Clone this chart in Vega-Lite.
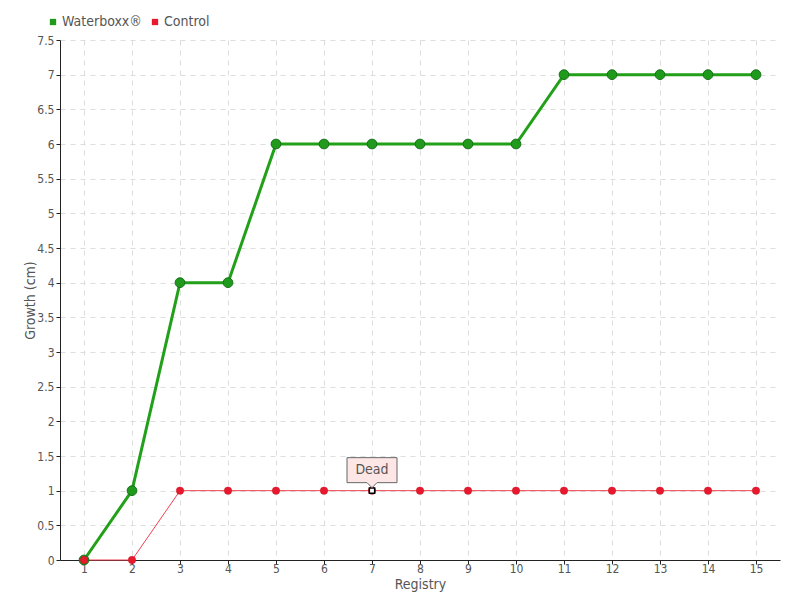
{
  "$schema": "https://vega.github.io/schema/vega-lite/v6.json",
  "width": 720,
  "height": 520,
  "autosize": {"type": "none"},
  "padding": {"left": 60, "top": 40, "right": 20, "bottom": 40},
  "background": "white",
  "config": {
    "font": "DejaVu Sans Condensed",
    "view": {"stroke": null},
    "axis": {
      "labelFont": "DejaVu Sans Condensed",
      "titleFont": "DejaVu Sans Condensed",
      "labelColor": "#555",
      "titleColor": "#555",
      "labelFontSize": 12,
      "titleFontSize": 14,
      "titleFontWeight": "normal",
      "domainColor": "#222",
      "tickColor": "#222",
      "gridColor": "#dddddd",
      "gridDash": [5, 5],
      "gridWidth": 1,
      "labelOverlap": false
    },
    "legend": {"labelFont": "DejaVu Sans Condensed", "labelFontSize": 14, "labelColor": "#555"}
  },
  "datasets": {
    "growth": [
      {"registry": 1, "growth": 0, "series": "Waterboxx®"},
      {"registry": 2, "growth": 1, "series": "Waterboxx®"},
      {"registry": 3, "growth": 4, "series": "Waterboxx®"},
      {"registry": 4, "growth": 4, "series": "Waterboxx®"},
      {"registry": 5, "growth": 6, "series": "Waterboxx®"},
      {"registry": 6, "growth": 6, "series": "Waterboxx®"},
      {"registry": 7, "growth": 6, "series": "Waterboxx®"},
      {"registry": 8, "growth": 6, "series": "Waterboxx®"},
      {"registry": 9, "growth": 6, "series": "Waterboxx®"},
      {"registry": 10, "growth": 6, "series": "Waterboxx®"},
      {"registry": 11, "growth": 7, "series": "Waterboxx®"},
      {"registry": 12, "growth": 7, "series": "Waterboxx®"},
      {"registry": 13, "growth": 7, "series": "Waterboxx®"},
      {"registry": 14, "growth": 7, "series": "Waterboxx®"},
      {"registry": 15, "growth": 7, "series": "Waterboxx®"},
      {"registry": 1, "growth": 0, "series": "Control"},
      {"registry": 2, "growth": 0, "series": "Control"},
      {"registry": 3, "growth": 1, "series": "Control"},
      {"registry": 4, "growth": 1, "series": "Control"},
      {"registry": 5, "growth": 1, "series": "Control"},
      {"registry": 6, "growth": 1, "series": "Control"},
      {"registry": 7, "growth": 1, "series": "Control"},
      {"registry": 8, "growth": 1, "series": "Control"},
      {"registry": 9, "growth": 1, "series": "Control"},
      {"registry": 10, "growth": 1, "series": "Control"},
      {"registry": 11, "growth": 1, "series": "Control"},
      {"registry": 12, "growth": 1, "series": "Control"},
      {"registry": 13, "growth": 1, "series": "Control"},
      {"registry": 14, "growth": 1, "series": "Control"},
      {"registry": 15, "growth": 1, "series": "Control"}
    ],
    "notes": [
      {"registry": 7, "growth": 1, "label": "Dead"}
    ]
  },
  "encoding": {
    "x": {
      "field": "registry", "type": "quantitative",
      "scale": {"domain": [0.5, 15.5], "nice": false, "zero": false},
      "axis": {
        "title": "Registry", "values": [1,2,3,4,5,6,7,8,9,10,11,12,13,14,15],
        "tickSize": 4, "labelPadding": -1, "titlePadding": 3, "grid": true
      }
    },
    "y": {
      "field": "growth", "type": "quantitative",
      "scale": {"domain": [0, 7.5], "nice": false},
      "axis": {
        "title": "Growth (cm)", "values": [0,0.5,1,1.5,2,2.5,3,3.5,4,4.5,5,5.5,6,6.5,7,7.5],
        "format": ".1~f", "tickSize": 4, "labelPadding": 2, "titlePadding": -1, "grid": true
      }
    }
  },
  "layer": [
    {
      "data": {"name": "growth"},
      "transform": [{"filter": "datum.series === 'Waterboxx®'"}],
      "mark": {"type": "line", "strokeWidth": 3, "color": "#22a01a"}
    },
    {
      "data": {"name": "growth"},
      "transform": [{"filter": "datum.series === 'Control'"}],
      "mark": {"type": "line", "strokeWidth": 1, "color": "#f0404f"}
    },
    {
      "data": {"name": "growth"},
      "transform": [{"filter": "datum.series === 'Waterboxx®'"}],
      "mark": {"type": "point", "filled": true, "size": 95, "stroke": "#16701a", "strokeWidth": 1, "opacity": 1},
      "encoding": {
        "fill": {
          "field": "series", "type": "nominal",
          "scale": {"domain": ["Waterboxx®", "Control"], "range": ["#1f9a1a", "#e8192c"]},
          "legend": {
            "orient": "none", "legendX": -14, "legendY": -25, "direction": "horizontal",
            "title": null, "symbolType": "square", "symbolSize": 40, "symbolStrokeWidth": 0,
            "columnPadding": 6, "labelOffset": 2
          }
        }
      }
    },
    {
      "data": {"name": "growth"},
      "transform": [{"filter": "datum.series === 'Control'"}],
      "mark": {"type": "point", "filled": true, "size": 55, "stroke": "#c8101f", "strokeWidth": 0.5, "opacity": 1},
      "encoding": {
        "fill": {"field": "series", "type": "nominal"}
      }
    },
    {
      "data": {"name": "notes"},
      "mark": {"type": "point", "filled": true, "shape": "square", "size": 28, "fill": "white", "stroke": "black", "strokeWidth": 1.5, "opacity": 1}
    },
    {
      "data": {"name": "notes"},
      "mark": {
        "type": "point", "filled": true,
        "shape": "M-1,-1.32 H1 V-0.32 H0.2 L0,-0.12 L-0.2,-0.32 H-1 Z",
        "size": 2500, "fill": "#fde6e6", "stroke": "#666", "strokeWidth": 1, "opacity": 1
      }
    },
    {
      "data": {"name": "notes"},
      "mark": {"type": "text", "dy": -21, "fontSize": 14, "color": "#555", "font": "DejaVu Sans Condensed"},
      "encoding": {
        "text": {"field": "label"}
      }
    }
  ]
}
